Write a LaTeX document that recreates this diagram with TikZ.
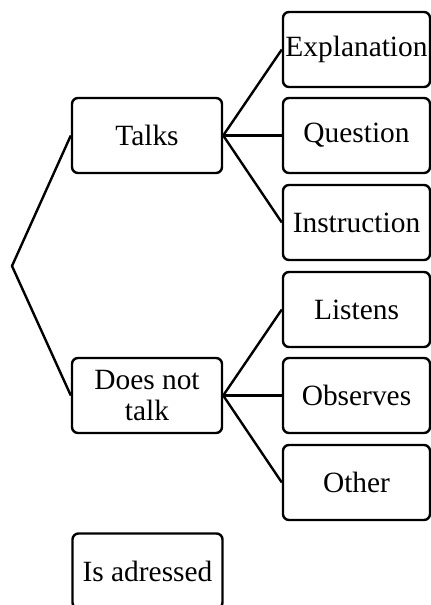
\documentclass[tikz,border=0pt]{standalone}
\usepackage{fontspec}
\setmainfont{Liberation Serif}

\begin{document}
\begin{tikzpicture}[x=.5pt, y=-.5pt,
  box/.style={draw, line width=1.2pt, rounded corners=3pt, minimum width=75pt, minimum height=37.5pt, align=center, inner sep=1pt, font=\fontsize{14.7}{15.4}\selectfont},
  leaf/.style={box, minimum width=73.5pt},
  link/.style={line width=1.2pt}]
\useasboundingbox (0,0) rectangle (431,605);

\coordinate (root) at (12,266);
\node[box] (talks) at (147,135.5) {Talks};
\node[box] (notalk) at (147,395.5) {Does not\\talk};
\node[box] (adressed) at (147.5,571) {Is adressed};

\node[leaf] (expl) at (356.5,49.5) {Explanation};
\node[leaf] (quest) at (356.5,135.5) {Question};
\node[leaf] (instr) at (356.5,222.5) {Instruction};
\node[leaf] (listens) at (356.5,309.5) {Listens};
\node[leaf] (observes) at (356.5,395.5) {Observes};
\node[leaf] (other) at (356.5,482.5) {Other};

\draw[link] (talks.west) -- (root) -- (notalk.west);
\foreach \c in {expl, quest, instr} \draw[link] (talks.east) -- (\c.west);
\foreach \c in {listens, observes, other} \draw[link] (notalk.east) -- (\c.west);

\end{tikzpicture}
\end{document}
